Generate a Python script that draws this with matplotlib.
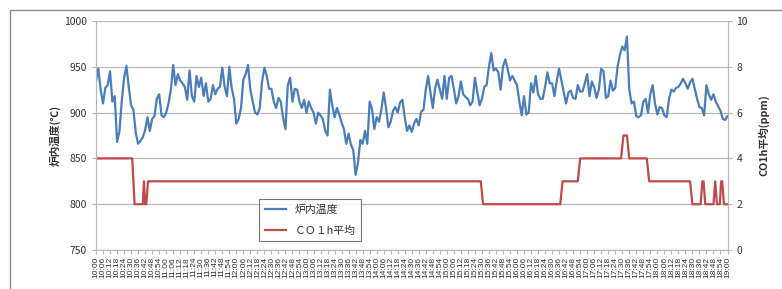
import numpy as np
import matplotlib
matplotlib.use("Agg")
import matplotlib.pyplot as plt
from matplotlib.patches import Rectangle

plt.rcParams["font.family"] = ["Noto Sans CJK JP", "DejaVu Sans"]

# minutes after 10:00, one temperature sample every 2 minutes
temp_minutes = np.arange(0, 541, 2)
temp_values = [
    934, 948, 925, 910, 927, 930, 945, 912, 918, 868,
    879, 912, 938, 951, 928, 908, 903, 878, 866, 869,
    873, 881, 895, 880, 893, 896, 915, 920, 897, 895,
    900, 910, 925, 952, 930, 942, 935, 932, 928, 914,
    946, 918, 912, 940, 928, 938,
    918, 932, 912, 915, 930, 920, 926, 928, 949, 928,
    918, 950, 927, 915, 888, 893, 905, 936, 942, 952,
    925, 912, 900, 898, 905, 934, 949, 940, 926, 926,
    912, 905, 916, 912, 894, 882, 930, 938, 912, 926,
    925, 912, 905, 914, 900,
    912, 905, 900, 888, 900, 897, 893, 880, 875, 925,
    908, 895, 905, 898, 889, 882, 866, 877, 865, 859,
    832, 845, 870, 866, 880, 866, 912, 904, 882, 895,
    890, 903, 922, 905, 884, 890, 902, 906, 900, 911,
    914, 895, 880, 886, 879, 888,
    893, 886, 901, 903, 925, 940, 922, 905, 927, 936,
    925, 915, 940, 915, 938, 940, 926, 910, 918, 934,
    920, 917, 915, 908, 912, 938, 923, 908, 915, 928,
    930, 950, 965, 946, 948, 944, 925, 950, 958, 948,
    935, 940, 935, 930, 912,
    897, 918, 898, 900, 932, 922, 940, 920, 915, 915,
    928, 944, 932, 932, 918, 935, 948, 935, 922, 910,
    922, 924, 916, 915, 930, 923, 923, 932, 942, 918,
    934, 928, 916, 925, 948, 945, 916, 918, 935, 924,
    927, 950, 963, 972, 968, 983, 925, 910, 912, 896,
    895, 897, 912, 915, 900, 920, 930, 910, 898, 906,
    905, 897, 895, 915, 925, 923, 927, 928, 932, 937,
    932, 926, 933, 937, 926, 915, 906, 905, 897, 930,
    920, 914, 920, 912, 907, 902, 893, 892, 896,
]

# CO 1h average (ppm), change points
co_minutes = [0, 31, 33, 40, 41, 42, 43, 44.5, 329, 331, 397, 399, 412, 414,
              449, 451, 454, 456, 471, 473, 508, 510, 517, 518.5, 519.5, 521,
              528, 529.5, 531, 533.5, 534.5, 535.5, 537, 540]
co_values = [4, 4, 2, 2, 3, 2, 2, 3, 3, 2, 2, 3, 3, 4,
             4, 5, 5, 4, 4, 3, 3, 2, 2, 3, 3, 2,
             2, 3, 2, 2, 3, 3, 2, 2]

tick_minutes = list(range(0, 541, 6))
tick_labels = [f"{10 + m // 60}:{m % 60:02d}" for m in tick_minutes]

temp_label = "炉内温度"
co_label = "ＣＯ１h平均"

BLUE = "#4a7ebb"
RED = "#be4b48"
GRID = "#b8b8b8"
TXT = "#333333"

fig = plt.figure(figsize=(7.82, 2.89), dpi=100)
fig.patches.append(Rectangle((10 / 782, -0.1), 1.0, 1 - 10 / 289 + 0.1,
                             transform=fig.transFigure, fill=False,
                             edgecolor="#8c8c8c", lw=1.0))

ax = fig.add_axes([96 / 782, 1 - 250 / 289, 631.5 / 782, 229 / 289])
ax2 = ax.twinx()

l1, = ax.plot(temp_minutes, temp_values, color=BLUE, lw=1.6, label=temp_label)
l2, = ax2.plot(co_minutes, co_values, color=RED, lw=1.6, label=co_label)

ax.set_xlim(0, 540)
ax.set_ylim(750, 1000)
ax.set_yticks(np.arange(750, 1001, 50))
ax2.set_ylim(0, 10)
ax2.set_yticks(np.arange(0, 11, 2))

ax.set_xticks(tick_minutes)
ax.set_xticklabels(tick_labels, rotation=90, fontsize=6, color=TXT,
                   family="Liberation Sans")
ax.tick_params(axis="y", labelsize=7.5, colors=GRID, labelcolor=TXT, length=3)
ax.tick_params(axis="x", colors=GRID, labelcolor=TXT, length=3, pad=2)
ax2.tick_params(axis="y", labelsize=7.5, colors=GRID, labelcolor=TXT, length=3)

ax.grid(axis="y", color=GRID, lw=0.9)
ax.set_axisbelow(True)
for a in (ax, ax2):
    a.spines["top"].set_visible(False)
    for s in ("left", "right", "bottom"):
        a.spines[s].set_color(GRID)

ax.set_ylabel("炉内温度(℃)", fontsize=7.7, fontweight="bold", color=TXT)
ax.yaxis.set_label_coords(-0.056, 0.5)
ax2.set_ylabel("CO1h平均(ppm)", fontsize=7.7, fontweight="bold", color=TXT)
ax2.yaxis.set_label_coords(1.048, 0.5)

leg = ax2.legend([l1, l2], [temp_label, co_label], loc="lower left",
                 bbox_to_anchor=(0.25, 0.015), fontsize=7.8, frameon=True,
                 fancybox=False, handlelength=2.0, labelspacing=1.0,
                 borderpad=0.5, labelcolor=TXT)
leg.get_frame().set_edgecolor("#555555")
leg.get_frame().set_linewidth(0.8)

fig.savefig("out.png", dpi=100)
